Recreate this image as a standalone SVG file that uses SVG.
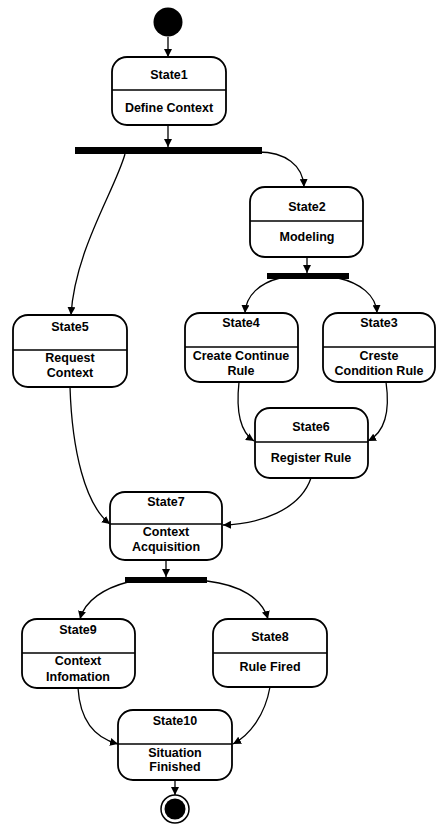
<svg xmlns="http://www.w3.org/2000/svg" width="437" height="826" viewBox="0 0 437 826">
  <style>
    .box { fill: #ffffff; stroke: #000; stroke-width: 1.8; }
    .div { stroke: #000; stroke-width: 1.7; }
    .bar { fill: #000; }
    .edge { fill: none; stroke: #000; stroke-width: 1.3; marker-end: url(#arrow); }
    text { font-family: "Liberation Sans", Arial, sans-serif; font-size: 12.5px; font-weight: bold; fill: #000; text-anchor: middle; }
  </style>
  <defs>
    <marker id="arrow" viewBox="0 0 10 10" refX="10" refY="5" markerWidth="8" markerHeight="8" markerUnits="userSpaceOnUse" orient="auto">
      <path d="M0,0 L10,5 L0,10 z" fill="#000"/>
    </marker>
  </defs>
  <rect width="437" height="826" fill="#fff"/>

  <!-- pseudo states and fork bars -->
  <g id="start"><circle cx="168" cy="22" r="14.5" fill="#000"/></g>
  <g id="fork1"><rect class="bar" x="75" y="147" width="187" height="7"/></g>
  <g id="fork2"><rect class="bar" x="267" y="273" width="82" height="6"/></g>
  <g id="fork3"><rect class="bar" x="125" y="577" width="82" height="6"/></g>
  <g id="end">
    <circle cx="175" cy="809" r="14" fill="#fff" stroke="#000" stroke-width="1.5"/>
    <circle cx="175" cy="809" r="10.5" fill="#000"/>
  </g>

  <!-- states -->
  <g id="state1">
    <rect class="box" x="112" y="57" width="114" height="68" rx="15"/>
    <line class="div" x1="112" y1="90" x2="226" y2="90"/>
    <text x="169" y="79">State1</text>
    <text x="169" y="112">Define Context</text>
  </g>
  <g id="state2">
    <rect class="box" x="250" y="187" width="113" height="70" rx="15"/>
    <line class="div" x1="250" y1="221" x2="363" y2="221"/>
    <text x="307" y="211">State2</text>
    <text x="307" y="241">Modeling</text>
  </g>
  <g id="state5">
    <rect class="box" x="13" y="315" width="114" height="72" rx="15"/>
    <line class="div" x1="13" y1="350" x2="127" y2="350"/>
    <text x="70" y="331">State5</text>
    <text x="70" y="362">Request</text>
    <text x="70" y="377">Context</text>
  </g>
  <g id="state4">
    <rect class="box" x="185" y="313" width="113" height="69" rx="15"/>
    <line class="div" x1="185" y1="347" x2="298" y2="347"/>
    <text x="241" y="327">State4</text>
    <text x="241" y="360">Create Continue</text>
    <text x="241" y="375">Rule</text>
  </g>
  <g id="state3">
    <rect class="box" x="323" y="313" width="112" height="69" rx="15"/>
    <line class="div" x1="323" y1="347" x2="435" y2="347"/>
    <text x="379" y="327">State3</text>
    <text x="379" y="360">Creste</text>
    <text x="379" y="375">Condition Rule</text>
  </g>
  <g id="state6">
    <rect class="box" x="255" y="408" width="113" height="70" rx="15"/>
    <line class="div" x1="255" y1="442" x2="368" y2="442"/>
    <text x="311" y="431">State6</text>
    <text x="311" y="462">Register Rule</text>
  </g>
  <g id="state7">
    <rect class="box" x="110" y="492" width="112" height="68" rx="15"/>
    <line class="div" x1="110" y1="524" x2="222" y2="524"/>
    <text x="166" y="506">State7</text>
    <text x="166" y="536">Context</text>
    <text x="166" y="551">Acquisition</text>
  </g>
  <g id="state9">
    <rect class="box" x="22" y="619" width="113" height="69" rx="15"/>
    <line class="div" x1="22" y1="653" x2="135" y2="653"/>
    <text x="78" y="634">State9</text>
    <text x="78" y="665">Context</text>
    <text x="78" y="681">Infomation</text>
  </g>
  <g id="state8">
    <rect class="box" x="213" y="619" width="114" height="68" rx="15"/>
    <line class="div" x1="213" y1="653" x2="327" y2="653"/>
    <text x="270" y="641">State8</text>
    <text x="270" y="671">Rule Fired</text>
  </g>
  <g id="state10">
    <rect class="box" x="118" y="710" width="114" height="70" rx="15"/>
    <line class="div" x1="118" y1="744" x2="232" y2="744"/>
    <text x="175" y="725">State10</text>
    <text x="175" y="757">Situation</text>
    <text x="175" y="771">Finished</text>
  </g>

  <!-- transitions -->
  <g id="connectors">
    <path class="edge" d="M168,37 L168,57"/>
    <path class="edge" d="M168,125 L168,147"/>
    <path class="edge" d="M125,154 C115,190 75,250 71,315"/>
    <path class="edge" d="M258,152 C285,152 303,165 304,187"/>
    <path class="edge" d="M307,257 L307,273"/>
    <path class="edge" d="M280,278 C260,283 246,295 245,313"/>
    <path class="edge" d="M338,278 C360,283 376,295 377,313"/>
    <path class="edge" d="M239,382 C236,410 240,432 254,441"/>
    <path class="edge" d="M386,382 C390,410 385,432 368,441"/>
    <path class="edge" d="M70,387 C72,450 85,505 110,524"/>
    <path class="edge" d="M311,478 C300,510 260,524 223,525"/>
    <path class="edge" d="M166,560 L166,577"/>
    <path class="edge" d="M128,582 C105,588 85,600 80,619"/>
    <path class="edge" d="M207,581 C240,585 262,598 268,619"/>
    <path class="edge" d="M78,688 C80,720 95,738 118,744"/>
    <path class="edge" d="M270,687 C265,715 250,735 233,744"/>
    <path class="edge" d="M175,780 L175,795"/>
  </g>
</svg>
